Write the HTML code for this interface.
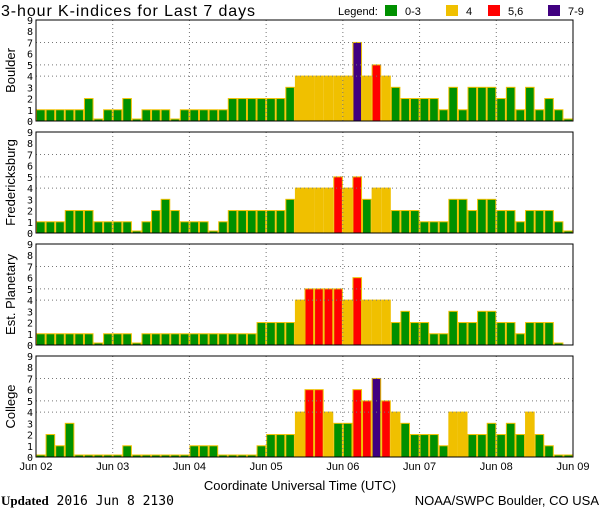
<!DOCTYPE html>
<html><head><meta charset="utf-8"><style>
body{margin:0;background:#fff;}
svg{display:block;font-family:"DejaVu Sans Mono","Liberation Mono",monospace;}
</style></head><body>
<svg id="chart" width="600" height="510" viewBox="0 0 600 510" xmlns="http://www.w3.org/2000/svg">
<text x="1" y="16" font-size="16" textLength="254" font-family="Liberation Sans, sans-serif">3-hour K-indices for Last 7 days</text>
<g font-size="11" font-family="Liberation Sans, sans-serif">
<text x="338" y="15">Legend:</text>
<rect x="385" y="5" width="12" height="11" fill="#009000"/><text x="405" y="15">0-3</text>
<rect x="446" y="5" width="12" height="11" fill="#f0c000"/><text x="466" y="15">4</text>
<rect x="488" y="5" width="12" height="11" fill="#ff0000"/><text x="508" y="15">5,6</text>
<rect x="548" y="5" width="12" height="11" fill="#400080"/><text x="568" y="15">7-9</text>
</g>
<g id="panels"></g>
<text x="300" y="490" text-anchor="middle" font-size="13" font-family="Liberation Sans, sans-serif">Coordinate Universal Time (UTC)</text>
<text x="1" y="505" font-size="13"><tspan font-weight="bold" font-family="Liberation Serif, serif">Updated</tspan> 2016 Jun  8 2130</text>
<text x="599" y="505" text-anchor="end" font-size="13" font-family="Liberation Sans, sans-serif">NOAA/SWPC Boulder, CO USA</text>
</svg>
<script>
const stations = ["Boulder","Fredericksburg","Est. Planetary","College"];
const dayLabels = ["Jun 02","Jun 03","Jun 04","Jun 05","Jun 06","Jun 07","Jun 08","Jun 09"];
const yTicks = [0,1,2,3,4,5,6,7,8,9];
const boulder = [1,1,1,1,1,2,0,1, 1,2,0,1,1,1,0,1, 1,1,1,1,2,2,2,2, 2,2,3,4,4,4,4,4, 4,7,4,5,4,3,2,2, 2,2,1,3,1,3,3,3, 2,3,1,3,1,2,1,0];
const fredericksburg = [1,1,1,2,2,2,1,1, 1,1,0,1,2,3,2,1, 1,1,0,1,2,2,2,2, 2,2,3,4,4,4,4,5, 4,5,3,4,4,2,2,2, 1,1,1,3,3,2,3,3, 2,2,1,2,2,2,1,0];
const planetary = [1,1,1,1,1,1,0,1, 1,1,0,1,1,1,1,1, 1,1,1,1,1,1,1,2, 2,2,2,4,5,5,5,5, 4,6,4,4,4,2,3,2, 2,1,1,3,2,2,3,3, 2,2,1,2,2,2,0,null];
const college = [0,2,1,3,0,0,0,0, 0,1,0,0,0,0,0,0, 1,1,1,0,0,0,0,1, 2,2,2,4,6,6,4,3, 3,6,5,7,5,4,3,2, 2,2,1,4,4,2,2,3, 2,3,2,4,2,1,0,0];
const seriesList = [boulder,fredericksburg,planetary,college];

const NS="http://www.w3.org/2000/svg";
const X0=36, X1=573, PH=101, tops=[20,132,244,356];
const nBars=56, bw=(X1-X0)/nBars;
const xPos=i=>X0+i*bw;
function color(v){return v>=7?"#400080":v>=5?"#ff0000":v>=4?"#f0c000":"#009000";}
function mk(tag,attrs,parent){const e=document.createElementNS(NS,tag);for(const k in attrs)e.setAttribute(k,attrs[k]);parent.appendChild(e);return e;}
const root=document.getElementById("panels");
seriesList.forEach((data,p)=>{
  const top=tops[p], bot=top+PH;
  const yPos=v=>bot-v*PH/9;
  const g=mk("g",{},root);
  
  
  data.forEach((v,i)=>{
    if(v===null) return;
    const h=Math.max(v*PH/9,2);
    const r=mk("rect",{x:xPos(i)+0.5,y:bot-h,width:bw-1,height:h,fill:color(v),stroke:"#f0c000","stroke-width":1},g);
    
    
  });
  for(let d=1;d<7;d++){const x=X0+d*8*bw;const l=mk("line",{x1:x,x2:x,y1:top,y2:bot,stroke:"#777","stroke-dasharray":"1,3"},g);}
  [4,5,7].forEach(v=>{const l=mk("line",{x1:X0,x2:X1,y1:yPos(v),y2:yPos(v),stroke:"#777","stroke-dasharray":"1,3"},g);});
  const fr=mk("rect",{x:X0,y:top,width:X1-X0,height:PH,fill:"none",stroke:"#000","stroke-width":1},g);
  
  
  yTicks.forEach(v=>{const t=mk("text",{x:33,y:yPos(v)+4,"text-anchor":"end","font-size":"10"},g);t.textContent=v;});
  const lab=mk("text",{transform:`translate(15,${top+PH/2}) rotate(-90)`,"text-anchor":"middle","font-size":"13","font-family":"Liberation Sans, sans-serif"},g);
  lab.textContent=stations[p];
  
  
});
dayLabels.forEach((s,d)=>{const t=mk("text",{x:X0+d*8*bw,y:470,"text-anchor":"middle","font-size":"11","font-family":"Liberation Sans, sans-serif"},root);t.textContent=s;});
</script>
</body></html>
